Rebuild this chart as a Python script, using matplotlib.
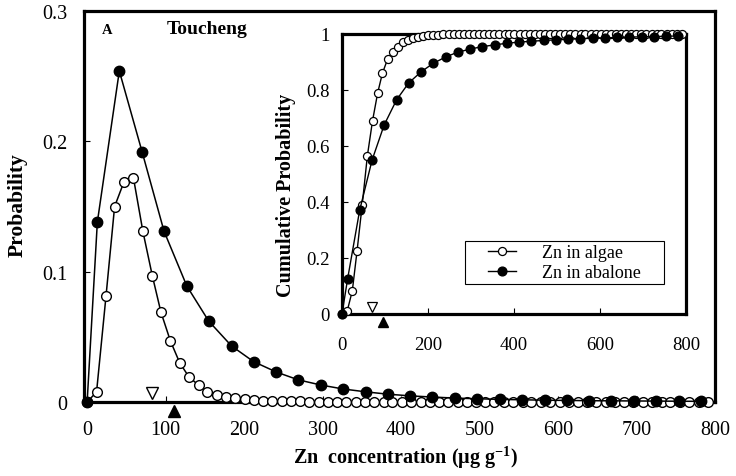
import numpy as np
import matplotlib
matplotlib.use('Agg')
import matplotlib.pyplot as plt
from matplotlib.patches import Rectangle

plt.rcParams['font.family'] = 'Liberation Serif'
plt.rcParams['mathtext.fontset'] = 'custom'
plt.rcParams['mathtext.rm'] = 'Liberation Serif:bold'
plt.rcParams['mathtext.it'] = 'Liberation Serif:italic:bold'
plt.rcParams['mathtext.bf'] = 'Liberation Serif:bold'
plt.rcParams['mathtext.default'] = 'rm'

# Zn in algae (open circles)
algae_x = [0, 12, 24, 35, 47, 59, 71, 83, 94, 106, 118, 130, 142, 153, 165, 177, 189,
           201, 212, 224, 236, 248, 260, 271, 283, 295, 307, 319, 330, 342, 354, 366,
           378, 389, 401, 413, 425, 437, 448, 460, 472, 484, 496, 507, 519, 531, 543,
           555, 566, 578, 590, 602, 614, 625, 637, 649, 661, 673, 684, 696, 708, 720,
           732, 743, 755, 767, 779, 791]
algae_pdf = [0, 0.0077, 0.081, 0.150, 0.169, 0.172, 0.131, 0.097, 0.069, 0.047, 0.030,
             0.019, 0.013, 0.008, 0.0055, 0.0038, 0.0027, 0.002, 0.0015, 0.0011, 0.0008,
             0.0006, 0.0005, 0.0004, 0.0003, 0.0003, 0.0002, 0.0002, 0.0002, 0.0002,
             0.0002, 0.0002, 0.0002, 0.0002, 0.0001, 0.0001, 0.0001, 0.0001, 0.0001,
             0.0001, 0.0001, 0.0001, 0.0001, 0.0001, 0.0001, 0.0001, 0.0001, 0.0001,
             0.0001, 0.0001, 0.0001, 0.0001, 0.0001, 0.0001, 0.0001, 0.0001, 0.0001,
             0.0001, 0.0001, 0.0001, 0.0001, 0.0001, 0.0001, 0.0001, 0.0001, 0.0001,
             0.0001, 0.0001]
algae_cdf = [0, 0.01, 0.083, 0.225, 0.39, 0.565, 0.69, 0.79, 0.86, 0.91, 0.935, 0.955,
             0.97, 0.98, 0.987, 0.991, 0.994, 0.996, 0.997, 0.998, 0.999, 0.999, 0.999,
             0.999, 1, 1, 1, 1, 1, 1, 1, 1, 1, 1, 1, 1, 1, 1, 1, 1, 1, 1, 1, 1, 1, 1, 1,
             1, 1, 1, 1, 1, 1, 1, 1, 1, 1, 1, 1, 1, 1, 1, 1, 1, 1, 1, 1, 1]

# Zn in abalone (filled circles)
abalone_x = [0, 13, 41, 70, 98, 127, 155, 184, 212, 241, 269, 298, 326, 355, 383, 412,
             440, 469, 497, 526, 554, 583, 611, 640, 668, 697, 725, 754, 782]
abalone_pdf = [0, 0.138, 0.254, 0.192, 0.131, 0.089, 0.062, 0.043, 0.031, 0.023, 0.017,
               0.013, 0.010, 0.0078, 0.006, 0.0047, 0.0038, 0.003, 0.0025, 0.002,
               0.0017, 0.0014, 0.0012, 0.001, 0.0009, 0.0008, 0.0007, 0.0006, 0.0005]
abalone_cdf = [0, 0.125, 0.37, 0.55, 0.675, 0.765, 0.825, 0.865, 0.895, 0.918, 0.935,
               0.946, 0.955, 0.961, 0.967, 0.971, 0.974, 0.977, 0.979, 0.981, 0.983,
               0.985, 0.986, 0.988, 0.989, 0.99, 0.991, 0.992, 0.993]

# median markers (main plot / inset)
median_main = {'algae': (83, 0.007), 'abalone': (111, -0.007)}
median_inset = {'algae': (70, 0.025), 'abalone': (96, -0.028)}

fig = plt.figure(figsize=(7.36, 4.77), dpi=100)

# main probability plot
ax = fig.add_axes([84/736, 1-403/477, (715-84)/736, (403-12)/477])
ax.plot(algae_x, algae_pdf, '-o', color='k', mfc='white', mec='k', ms=7, mew=1.0,
        lw=1.1, clip_on=False, zorder=3)
ax.plot(abalone_x, abalone_pdf, '-o', color='k', ms=7.5, lw=1.1, clip_on=False, zorder=4)
ax.plot(*median_main['algae'], marker='v', mfc='white', mec='k', ms=8, mew=1.0,
        clip_on=False, zorder=5)
ax.plot(*median_main['abalone'], marker='^', color='k', ms=8, clip_on=False, zorder=5)
ax.set_xlim(-4, 800)
ax.set_ylim(0, 0.3)
ax.set_xticks(range(0, 801, 100))
ax.set_yticks([0, 0.1, 0.2, 0.3])
ax.set_yticklabels(['0', '0.1', '0.2', '0.3'])
ax.tick_params(direction='in', length=4, width=0.8, labelsize=14.5)
ax.tick_params(axis='y', pad=12)
ax.tick_params(axis='x', pad=13)
for s in ax.spines.values():
    s.set_linewidth(2.3)

# inset cumulative plot
ax2 = fig.add_axes([342/736, 1-315/477, (686-342)/736, (315-35)/477])
l1, = ax2.plot(algae_x, algae_cdf, '-o', color='k', mfc='white', mec='k', ms=5.8,
               mew=0.9, lw=1.0, clip_on=False, zorder=3, label='Zn in algae')
l2, = ax2.plot(abalone_x, abalone_cdf, '-o', color='k', ms=6.3, lw=1.0, clip_on=False,
               zorder=4, label='Zn in abalone')
ax2.plot(*median_inset['algae'], marker='v', mfc='white', mec='k', ms=7.5, mew=0.9,
         clip_on=False, zorder=5)
ax2.plot(*median_inset['abalone'], marker='^', color='k', ms=6.5, clip_on=False, zorder=5)
ax2.set_xlim(0, 800)
ax2.set_ylim(0, 1)
ax2.set_xticks(range(0, 801, 200))
ax2.set_yticks([0, 0.2, 0.4, 0.6, 0.8, 1])
ax2.set_yticklabels(['0', '0.2', '0.4', '0.6', '0.8', '1'])
ax2.tick_params(direction='in', length=4, width=0.8, labelsize=13.5)
ax2.tick_params(axis='y', pad=9)
ax2.tick_params(axis='x', pad=16)
for s in ax2.spines.values():
    s.set_linewidth(2.3)

# legend: entries without frame, box drawn separately
leg = ax2.legend(handles=[l1, l2], loc='upper left',
                 bbox_to_anchor=(483/736, 1-240/477), bbox_transform=fig.transFigure,
                 frameon=False, fontsize=13, handlelength=1.5, labelspacing=0.15,
                 borderpad=0.3, handletextpad=1.45, borderaxespad=0)
fig.add_artist(Rectangle((465/736, 1-285/477), (664-465)/736, (285-242)/477,
                         transform=fig.transFigure, fill=False, ec='k', lw=0.8,
                         zorder=6))

# labels
fig.text(18/736, 1-205/477, 'Probability', rotation=90, fontweight='bold',
         fontsize=15.5, ha='center', va='center')
fig.text(286/736, 1-195/477, 'Cumulative Probability', rotation=90,
         fontweight='bold', fontsize=14.5, ha='center', va='center')
fig.text(405/736, 1-458/477, r'Zn  concentration ($\mu$g g$^{-1}$)',
         fontweight='bold', fontsize=14.5, ha='center', va='center')
fig.text(107/736, 1-30/477, 'A', fontweight='bold', fontsize=10.5,
         ha='center', va='center')
fig.text(167/736, 1-30/477, 'Toucheng', fontweight='bold', fontsize=14,
         ha='left', va='center')

fig.savefig('out.png', dpi=100)
